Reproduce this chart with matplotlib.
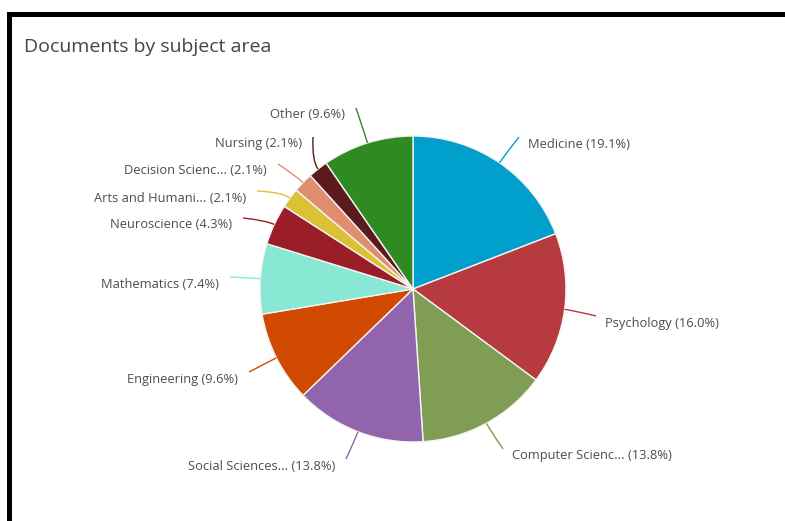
import matplotlib
matplotlib.use("Agg")
import matplotlib.pyplot as plt
from matplotlib.patches import Rectangle, PathPatch
from matplotlib.path import Path
import numpy as np

# Subject areas and their share of documents (%)
subjects = [
    "Medicine", "Psychology", "Computer Scienc...", "Social Sciences...",
    "Engineering", "Mathematics", "Neuroscience", "Arts and Humani...",
    "Decision Scienc...", "Nursing", "Other",
]
shares = [19.1, 16.0, 13.8, 13.8, 9.6, 7.4, 4.3, 2.1, 2.1, 2.1, 9.6]
colors = [
    "#009fcc", "#b63a40", "#7f9e54", "#9264ae", "#d04a02", "#88e8d4",
    "#9b1d28", "#dbc135", "#e08e6f", "#5b1a1c", "#2e8b22",
]

W, H = 785, 521
fig = plt.figure(figsize=(W / 100, H / 100), dpi=100)
fig.patch.set_facecolor("white")
ax = fig.add_axes([0, 0, 1, 1])

# pie geometry in pixel units (y measured upward)
cx, cy, R = 413, H - 289, 153
ax.pie(shares, colors=colors, startangle=90, counterclock=False,
       center=(cx, cy), radius=R, frame=True,
       wedgeprops=dict(edgecolor="#f4f4f4", linewidth=1.0))
ax.set_xlim(0, W)
ax.set_ylim(0, H)
ax.set_aspect("equal")
ax.axis("off")

# label layout: connector end point (x, y from top)
label_ends = [
    (519, 137), (596, 316), (503, 449), (346, 459), (249, 372), (230, 277),
    (243, 218), (257, 191), (278, 164), (313, 137), (356, 108),
]
text_color = "#4d4d4d"
font = ["Open Sans", "DejaVu Sans"]

total = sum(shares)
cum = 0.0
for name, v, col, (ex, ey) in zip(subjects, shares, colors, label_ends):
    theta = np.deg2rad(360.0 * (cum + v / 2) / total)
    cum += v
    p0 = np.array([cx + R * np.sin(theta), cy + R * np.cos(theta)])
    p2 = np.array([ex, H - ey])
    radial = np.array([np.sin(theta), np.cos(theta)])
    p1 = p0 + radial * 0.3 * np.linalg.norm(p2 - p0)
    path = Path([p0, p1, p2], [Path.MOVETO, Path.CURVE3, Path.CURVE3])
    ax.add_patch(PathPatch(path, facecolor="none", edgecolor=col, lw=1.0))
    right = p2[0] > cx
    tx = ex + 9 if right else ex - 11
    ty = H - (ey + 7)
    ax.text(tx, ty, f"{name} ({v:.1f}%)", ha="left" if right else "right",
            va="center", fontsize=9.3, color=text_color, family=font)

# title
ax.text(24, H - 47, "Documents by subject area", ha="left", va="center",
        fontsize=14, color="#444444", family=font)

# panel frame (top and left edges)
ax.add_patch(Rectangle((7, H - 17), W - 7, 5, facecolor="black",
                       edgecolor="none"))
ax.add_patch(Rectangle((7, 0), 5, H - 12, facecolor="black",
                       edgecolor="none"))

fig.savefig("out.png", dpi=100)
